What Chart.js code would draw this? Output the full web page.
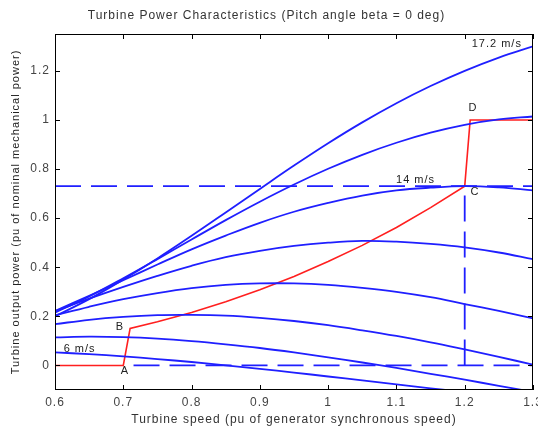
<!DOCTYPE html>
<html>
<head>
<meta charset="utf-8">
<script src="https://cdn.jsdelivr.net/npm/chart.js@4"></script>
<style>
  body { margin: 0; background: #fff; }
</style>
</head>
<body>
<canvas id="turbine" width="538" height="430"></canvas>
<script>
(() => {

  // turbine speed, pu
  const speed = [0.6, 0.65, 0.7, 0.75, 0.8, 0.85, 0.9, 0.95, 1.0, 1.05, 1.1, 1.15, 1.2, 1.25, 1.3];

  // output power (pu) for each wind speed
  const p6   = [0.053, 0.046, 0.037, 0.026, 0.014, 0.000, -0.014, -0.029, -0.045, -0.061, -0.077, -0.093, -0.109, -0.125, -0.141];
  const p7_6 = [0.114, 0.117, 0.115, 0.109, 0.099, 0.086, 0.071, 0.053, 0.033, 0.012, -0.010, -0.034, -0.058, -0.083, -0.108];
  const p9_2 = [0.168, 0.186, 0.198, 0.205, 0.206, 0.203, 0.194, 0.181, 0.164, 0.143, 0.120, 0.094, 0.065, 0.035, 0.003];
  const p10_8 = [0.204, 0.239, 0.270, 0.295, 0.315, 0.328, 0.334, 0.334, 0.328, 0.316, 0.300, 0.278, 0.250, 0.222, 0.192];
  const p12_4 = [0.221, 0.272, 0.320, 0.365, 0.406, 0.441, 0.467, 0.487, 0.500, 0.507, 0.504, 0.495, 0.481, 0.460, 0.433];
  const p14  = [0.222, 0.284, 0.347, 0.411, 0.473, 0.529, 0.581, 0.626, 0.662, 0.692, 0.713, 0.724, 0.730, 0.725, 0.713];
  const p15_6 = [0.215, 0.281, 0.355, 0.433, 0.513, 0.592, 0.667, 0.737, 0.801, 0.858, 0.907, 0.948, 0.980, 1.002, 1.014];
  const p17_2 = [0.200, 0.270, 0.350, 0.436, 0.528, 0.623, 0.719, 0.814, 0.905, 0.990, 1.068, 1.138, 1.200, 1.254, 1.300];

  const windCurves = [p6, p7_6, p9_2, p10_8, p12_4, p14, p15_6, p17_2];

  // operating characteristic A-B-C-D (red)
  const opSpeed = [0.6, 0.7, 0.71, 0.75, 0.8, 0.85, 0.9, 0.95, 1.0, 1.05, 1.1, 1.15, 1.2, 1.208, 1.3];
  const opPower = [0, 0, 0.151, 0.178, 0.216, 0.259, 0.308, 0.362, 0.423, 0.489, 0.562, 0.643, 0.73, 1.0, 1.0];

  // dashed reference lines
  const maxPowerX = [0.6, 1.3];
  const maxPowerY = [0.73, 0.73];
  const zeroX = [0.715, 1.3];
  const zeroY = [0, 0];
  const baseSpeedX = [1.2, 1.2];
  const baseSpeedY = [0, 0.73];

  const xTicks = [0.6, 0.7, 0.8, 0.9, 1, 1.1, 1.2, 1.3];
  const yTicks = [0, 0.2, 0.4, 0.6, 0.8, 1, 1.2];

  const notes = [
    { text: '17.2 m/s', x: 1.247, y: 1.31 },
    { text: '14 m/s', x: 1.128, y: 0.755 },
    { text: '6 m/s', x: 0.636, y: 0.069 },
    { text: 'A', x: 0.7025, y: -0.024 },
    { text: 'B', x: 0.695, y: 0.155 },
    { text: 'C', x: 1.215, y: 0.706 },
    { text: 'D', x: 1.212, y: 1.049 }
  ];

  const pts = (xs, ys) => xs.map((x, i) => ({ x: x, y: ys[i] }));

  const BLUE = '#1f1fff';
  const RED = '#ff1f1f';
  const FONT = 'Liberation Sans, Arial, sans-serif';

  const datasets = windCurves.map(ys => ({
    data: pts(speed, ys),
    borderColor: BLUE,
    borderWidth: 1.8,
    tension: 0.4
  }));

  const dashed = { borderColor: BLUE, borderWidth: 1.8, borderDash: [26, 10], tension: 0 };
  datasets.push(Object.assign({ data: pts(maxPowerX, maxPowerY) }, dashed));
  datasets.push(Object.assign({ data: pts(zeroX, zeroY) }, dashed));
  datasets.push(Object.assign({ data: pts(baseSpeedX, baseSpeedY) }, dashed));
  datasets.push({ data: pts(opSpeed, opPower), borderColor: RED, borderWidth: 1.6, tension: 0 });

  const boxPlugin = {
    id: 'box',
    beforeDraw(chart) {
      // matlab-ish wide text
      chart.ctx.letterSpacing = '1px';
    },
    afterDraw(chart) {
      const { ctx, chartArea: a, scales: { x, y } } = chart;
      ctx.save();
      ctx.strokeStyle = '#000';
      ctx.lineWidth = 1;
      ctx.strokeRect(a.left + 0.5, a.top + 0.5, a.right - a.left - 1, a.bottom - a.top - 1);
      ctx.beginPath();
      xTicks.forEach(v => {
        const px = Math.round(x.getPixelForValue(v)) + 0.5;
        ctx.moveTo(px, a.bottom); ctx.lineTo(px, a.bottom - 5);
        ctx.moveTo(px, a.top); ctx.lineTo(px, a.top + 5);
      });
      yTicks.forEach(v => {
        const py = Math.round(y.getPixelForValue(v)) + 0.5;
        ctx.moveTo(a.left, py); ctx.lineTo(a.left + 5, py);
        ctx.moveTo(a.right, py); ctx.lineTo(a.right - 5, py);
      });
      ctx.stroke();

      ctx.fillStyle = '#222';
      ctx.font = '11px ' + FONT;
      ctx.textAlign = 'center';
      ctx.textBaseline = 'middle';
      notes.forEach(n => {
        ctx.fillText(n.text, x.getPixelForValue(n.x), y.getPixelForValue(n.y));
      });
      ctx.restore();
    }
  };

  new Chart(document.getElementById('turbine'), {
    type: 'scatter',
    data: { datasets: datasets },
    plugins: [boxPlugin],
    options: {
      responsive: false,
      animation: false,
      devicePixelRatio: 1,
      showLine: true,
      elements: { point: { radius: 0, hoverRadius: 0 } },
      layout: { padding: { left: 0, right: 5, top: 0, bottom: 0 } },
      plugins: {
        legend: { display: false },
        tooltip: { enabled: false },
        title: {
          display: true,
          text: 'Turbine Power Characteristics (Pitch angle beta = 0 deg)',
          color: '#333',
          font: { family: FONT, size: 12, weight: 'normal' },
          padding: { top: 8, bottom: 11.6 }
        }
      },
      scales: {
        x: {
          type: 'linear',
          min: 0.6,
          max: 1.3,
          afterBuildTicks: s => { s.ticks = xTicks.map(v => ({ value: v })); },
          afterFit: s => { s.height = 40; s.paddingLeft = 0; s.paddingRight = 0; },
          grid: { display: false, drawTicks: false },
          border: { display: false },
          ticks: {
            color: '#444',
            padding: 5,
            maxRotation: 0,
            font: { family: FONT, size: 12 },
            callback: v => String(v)
          },
          title: {
            display: true,
            text: 'Turbine speed (pu of generator synchronous speed)',
            color: '#333',
            font: { family: FONT, size: 12 },
            padding: { top: 0, bottom: 3 }
          }
        },
        y: {
          type: 'linear',
          min: -0.1,
          max: 1.35,
          afterBuildTicks: s => { s.ticks = yTicks.map(v => ({ value: v })); },
          afterFit: s => { s.width = 55; s.paddingTop = 0; s.paddingBottom = 0; },
          grid: { display: false, drawTicks: false },
          border: { display: false },
          ticks: {
            color: '#444',
            padding: 5,
            font: { family: FONT, size: 12 },
            callback: v => String(v)
          },
          title: {
            display: true,
            text: 'Turbine output power (pu of nominal mechanical power)',
            color: '#222',
            font: { family: FONT, size: 11 },
            padding: { top: 9, bottom: 0 }
          }
        }
      }
    }
  });

})();
</script>
</body>
</html>
